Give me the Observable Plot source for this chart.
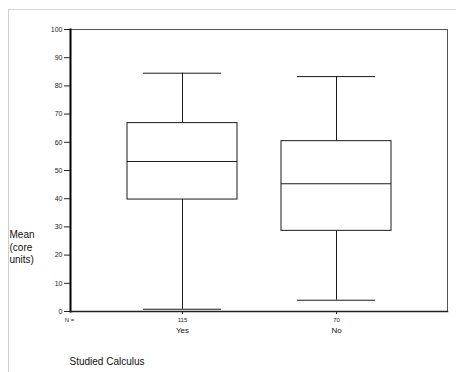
<!DOCTYPE html>
<html>
<head>
<meta charset="utf-8">
<script src="https://cdn.jsdelivr.net/npm/d3@7"></script>
<script src="https://cdn.jsdelivr.net/npm/@observablehq/plot@0.6"></script>
<style>
  html, body { margin: 0; padding: 0; background: #fff; }
  #wrap { position: relative; width: 456px; height: 372px; overflow: hidden; }
  #edge { position: absolute; left: 8px; top: 9px; width: 460px; height: 380px;
          border-left: 1px solid #cfcfcf; border-top: 1px solid #d8d8d8; }
  #chart { position: absolute; left: 0; top: 0; }
  text { font-family: "Liberation Sans", Arial, sans-serif; }
</style>
</head>
<body>
<div id="wrap"><div id="chart"></div><div id="edge"></div></div>
<script>
// Box-plot summaries of mean scores by whether the student studied calculus
const groups = ["Yes", "No"];
const counts = [115, 70];
const whiskerLow = [0.8, 4.0];
const q1 = [39.7, 28.6];
const median = [53.2, 45.3];
const q3 = [66.8, 60.4];
const whiskerHigh = [84.5, 83.3];
const yTicks = [0, 10, 20, 30, 40, 50, 60, 70, 80, 90, 100];

const rows = groups.map((g, i) => ({
  group: g, n: counts[i], lo: whiskerLow[i], q1: q1[i],
  med: median[i], q3: q3[i], hi: whiskerHigh[i]
}));

const ink = "#1a1a1a";
const font = "Liberation Sans, Arial, sans-serif";

const chart = Plot.plot({
  width: 456,
  height: 372,
  marginLeft: 70,
  marginRight: 9,
  marginTop: 29,
  marginBottom: 61,
  style: { fontFamily: font, background: "transparent", overflow: "visible" },
  x: { domain: groups, paddingInner: 0.287, paddingOuter: 0.365, axis: null },
  y: { domain: [0, 100], axis: null },
  marks: [
    // plot frame: light top/right, heavy left/bottom
    Plot.frame({ stroke: "#555", strokeWidth: 1 }),
    Plot.frame({ anchor: "left", stroke: "#000", strokeWidth: 2 }),
    Plot.frame({ anchor: "bottom", stroke: "#222", strokeWidth: 1.5 }),
    Plot.axisY({ ticks: yTicks, tickSize: 6, tickPadding: 2, fontSize: 7, label: null, stroke: "#222", color: "#222" }),
    Plot.axisX({ tickSize: 3, tickFormat: () => "", label: null, stroke: "#222" }),
    // whiskers
    Plot.ruleX(rows, { x: "group", y1: "q3", y2: "hi", stroke: ink, strokeWidth: 1 }),
    Plot.ruleX(rows, { x: "group", y1: "lo", y2: "q1", stroke: ink, strokeWidth: 1 }),
    Plot.tickY(rows, { x: "group", y: "hi", stroke: ink, strokeWidth: 1, insetLeft: 16, insetRight: 16 }),
    Plot.tickY(rows, { x: "group", y: "lo", stroke: ink, strokeWidth: 1, insetLeft: 16, insetRight: 16 }),
    // boxes and medians
    Plot.barY(rows, { x: "group", y1: "q1", y2: "q3", fill: "#fff", stroke: ink, strokeWidth: 1 }),
    Plot.tickY(rows, { x: "group", y: "med", stroke: ink, strokeWidth: 1 }),
    // sample sizes and category names under the axis
    Plot.text(["N ="], { frameAnchor: "bottom-left", dx: -1, dy: 10, textAnchor: "middle", fontSize: 6, fill: "#222" }),
    Plot.text(rows, { x: "group", text: d => String(d.n), frameAnchor: "bottom", dy: 10, fontSize: 6, fill: "#222" }),
    Plot.text(rows, { x: "group", text: "group", frameAnchor: "bottom", dy: 21, fontSize: 8, fill: "#111" }),
    // axis titles
    Plot.text(["Mean\n(core\nunits)"], { frameAnchor: "left", dx: -61, dy: 76, textAnchor: "start", lineAnchor: "middle", lineHeight: 1.25, fontSize: 10, fill: "#111" }),
    Plot.text(["Studied Calculus"], { frameAnchor: "bottom-left", dx: -1, dy: 50, textAnchor: "start", lineAnchor: "middle", fontSize: 10, fill: "#111" })
  ]
});

document.getElementById("chart").appendChild(chart);
</script>
</body>
</html>
